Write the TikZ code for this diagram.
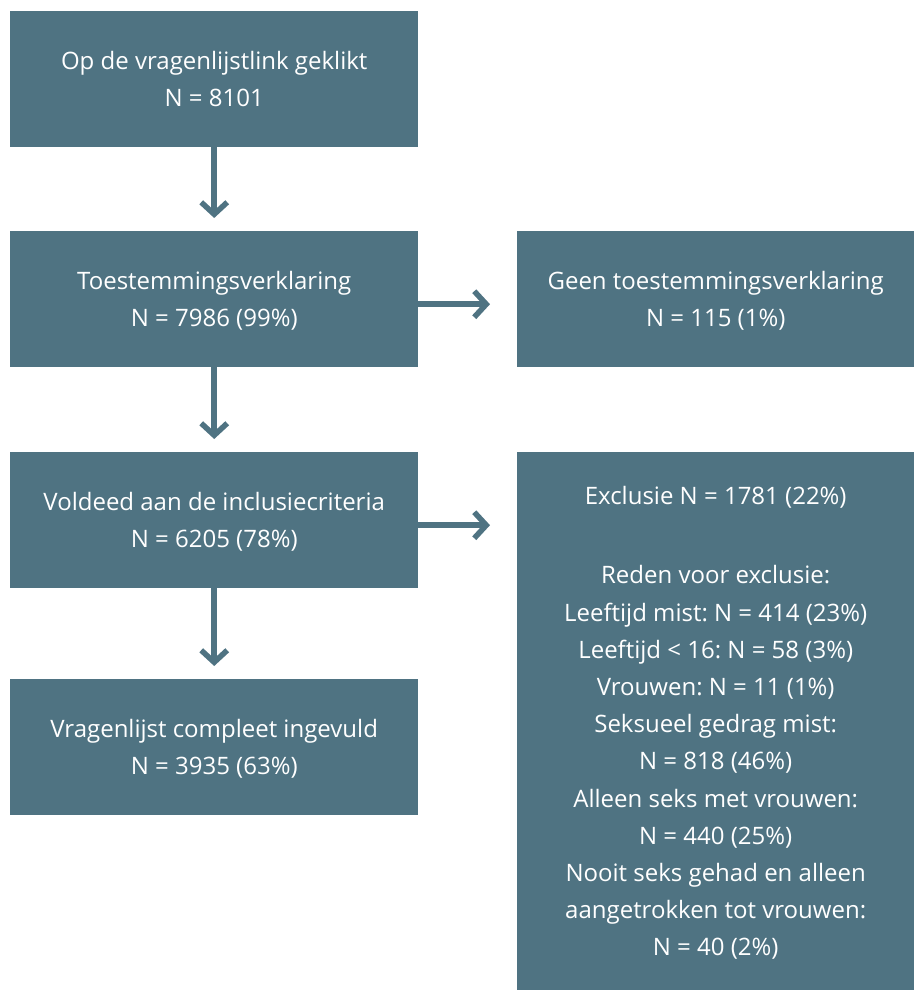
\documentclass[tikz,border=0pt]{standalone}
\usepackage{fontspec}
\setmainfont{Open Sans}
\usetikzlibrary{arrows.meta}
\definecolor{boxc}{RGB}{79,115,130}
\begin{document}
\frenchspacing
\begin{tikzpicture}[x=1pt,y=-1pt,
  box/.style={fill=boxc, draw=none, inner sep=0pt, anchor=north west, text=white,
    align=center, font=\fontsize{24}{37.2}\selectfont, text depth=0pt},
  conn/.style={draw=boxc, line width=5.5pt, -{Straight Barb[length=12pt,width=26pt,line width=5.5pt]}}]
\useasboundingbox (0,0) rectangle (914,990);
\node[box, minimum width=408, minimum height=136] (b1) at (10,11) {Op de vragenlijstlink geklikt\\N = 8101};
\node[box, minimum width=408, minimum height=136] (b2) at (10,231) {Toestemmingsverklaring\\N = 7986 (99\%)};
\node[box, minimum width=397, minimum height=136] (r1) at (517,231) {Geen toestemmingsverklaring\\N = 115 (1\%)};
\node[box, minimum width=408, minimum height=136] (b3) at (10,452) {Voldeed aan de inclusiecriteria\\N = 6205 (78\%)};
\node[box, minimum width=408, minimum height=136] (b4) at (10,679) {Vragenlijst compleet ingevuld\\N = 3935 (63\%)};
\node[box, minimum width=397, minimum height=538] (r2) at (517,452) {Exclusie N = 1781 (22\%)\\[42pt]Reden voor exclusie:\\Leeftijd mist: N = 414 (23\%)\\Leeftijd < 16: N = 58 (3\%)\\Vrouwen: N = 11 (1\%)\\Seksueel gedrag mist:\\N = 818 (46\%)\\Alleen seks met vrouwen:\\N = 440 (25\%)\\Nooit seks gehad en alleen\\aangetrokken tot vrouwen:\\N = 40 (2\%)};
\draw[conn, shorten >=13pt] (b1.south) -- (b2.north);
\draw[conn, shorten >=13pt] (b2.south) -- (b3.north);
\draw[conn, shorten >=13pt] (b3.south) -- (b4.north);
\draw[conn, shorten >=27pt] ([yshift=-5pt]b2.east) -- ([yshift=-5pt]b2.east -| r1.west);
\draw[conn, shorten >=27pt] ([yshift=-5pt]b3.east) -- ([yshift=-5pt]b3.east -| r2.west);
\end{tikzpicture}
\end{document}
